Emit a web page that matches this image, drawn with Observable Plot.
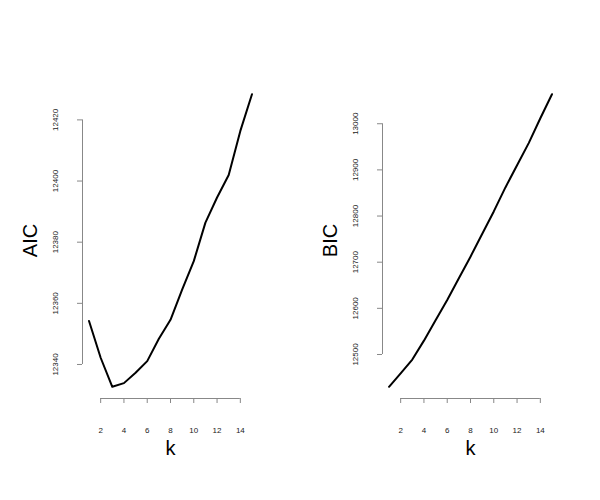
<!DOCTYPE html>
<html>
<head>
<meta charset="utf-8">
<script src="https://cdn.jsdelivr.net/npm/d3@7"></script>
<script src="https://cdn.jsdelivr.net/npm/@observablehq/plot@0.6"></script>
<style>
  body { margin: 0; background: #fff; }
  #wrap { display: flex; width: 600px; height: 500px; }
</style>
</head>
<body>
<div id="wrap"></div>
<script>
const k = [1, 2, 3, 4, 5, 6, 7, 8, 9, 10, 11, 12, 13, 14, 15];
const aic = [12354.2, 12342.2, 12332.7, 12333.9, 12337.3, 12341.1, 12348.4, 12354.6, 12364.5, 12373.8, 12386.4, 12394.6, 12402.0, 12416.4, 12428.4];
const bic = [12430, 12459, 12489, 12530, 12574, 12618, 12665, 12712, 12761, 12810, 12862, 12910, 12958, 13012, 13064];
const xTicks = [2, 4, 6, 8, 10, 12, 14];
const aicTicks = [12340, 12360, 12380, 12400, 12420];
const bicTicks = [12500, 12600, 12700, 12800, 12900, 13000];

function panel(values, ticks, label) {
  const data = k.map((kk, i) => ({k: kk, v: values[i]}));
  const ext = d3.extent(values);
  const pad = 0.04 * (ext[1] - ext[0]);
  const yDomain = [ext[0] - pad, ext[1] + pad];
  const kx = d3.extent(k);
  const xpad = 0.04 * (kx[1] - kx[0]);
  const xDomain = [kx[0] - xpad, kx[1] + xpad];
  return Plot.plot({
    width: 300,
    height: 500,
    marginLeft: 82,
    marginRight: 42,
    marginTop: 82,
    marginBottom: 102,
    style: {fontFamily: "'Liberation Sans', Arial, Helvetica, sans-serif", background: "#fff"},
    x: {domain: xDomain},
    y: {domain: yDomain},
    marks: [
      Plot.ruleY([{y: yDomain[0], x1: xTicks[0], x2: xTicks[xTicks.length - 1]}], {y: "y", x1: "x1", x2: "x2", stroke: "#888", strokeWidth: 1}),
      Plot.ruleX([{x: xDomain[0], y1: ticks[0], y2: ticks[ticks.length - 1]}], {x: "x", y1: "y1", y2: "y2", stroke: "#888", strokeWidth: 1}),
      Plot.axisX({ticks: xTicks, tickSize: 5, tickPadding: 24, fontSize: 8, label: null, stroke: "#888", fill: "#222"}),
      Plot.axisY({ticks: ticks, tickSize: 5, tickFormat: () => "", label: null, stroke: "#888"}),
      Plot.text(ticks, {y: d => d, text: d => String(d), frameAnchor: "left", dx: -27, rotate: -90, fontSize: 8, fill: "#222", textAnchor: "middle", lineAnchor: "middle"}),
      Plot.text([label], {frameAnchor: "left", dx: -52, rotate: -90, fontSize: 20, fill: "#000", textAnchor: "middle", lineAnchor: "middle"}),
      Plot.text(["k"], {frameAnchor: "bottom", dy: 50, fontSize: 20, fill: "#000", textAnchor: "middle", lineAnchor: "middle"}),
      Plot.line(data, {x: "k", y: "v", stroke: "#000", strokeWidth: 2})
    ]
  });
}

const wrap = document.getElementById("wrap");
wrap.appendChild(panel(aic, aicTicks, "AIC"));
wrap.appendChild(panel(bic, bicTicks, "BIC"));
</script>
</body>
</html>
